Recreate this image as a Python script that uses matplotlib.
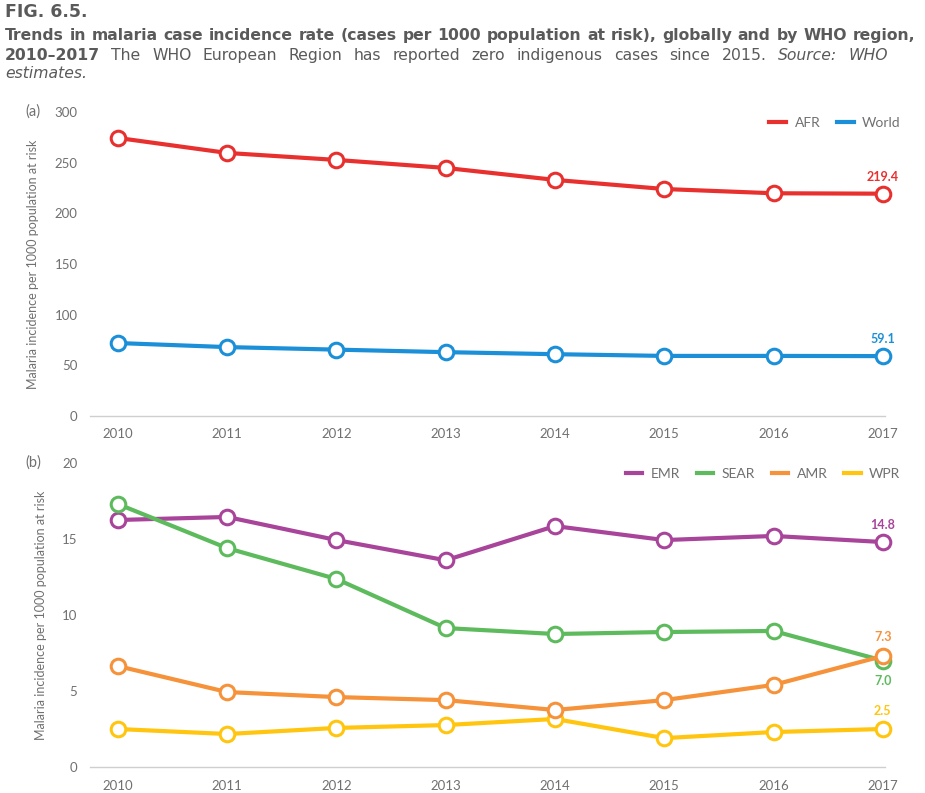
import matplotlib
matplotlib.use("Agg")
import matplotlib.pyplot as plt
from matplotlib.lines import Line2D

plt.rcParams['font.family'] = ['Lato', 'DejaVu Sans']

years = [2010, 2011, 2012, 2013, 2014, 2015, 2016, 2017]
afr = [274.4, 259.6, 252.7, 244.8, 233.0, 224.0, 219.8, 219.4]
world = [72.0, 68.0, 65.5, 63.0, 61.0, 59.3, 59.3, 59.1]
emr = [16.25, 16.45, 14.93, 13.6, 15.85, 14.93, 15.2, 14.8]
sear = [17.3, 14.4, 12.37, 9.14, 8.75, 8.88, 8.95, 7.0]
amr = [6.64, 4.93, 4.6, 4.4, 3.75, 4.4, 5.4, 7.3]
wpr = [2.5, 2.17, 2.57, 2.76, 3.16, 1.9, 2.3, 2.5]

yticks_a = [0, 50, 100, 150, 200, 250, 300]
yticks_b = [0, 5, 10, 15, 20]

C_AFR = '#E8312F'
C_WORLD = '#1B8FD8'
C_EMR = '#A8449A'
C_SEAR = '#5DBB5D'
C_AMR = '#F5923A'
C_WPR = '#FFC50F'
GRAY = '#707070'
TITLE = '#5a5a5a'

W, H = 925, 793
fig = plt.figure(figsize=(W / 100, H / 100), dpi=100)

def ax_rect(x0, y_top, x1, y_bot):
    return [x0 / W, 1 - y_bot / H, (x1 - x0) / W, (y_bot - y_top) / H]

ax_a = fig.add_axes(ax_rect(90, 112, 885, 416))
ax_b = fig.add_axes(ax_rect(90, 463, 885, 767))

def style(ax, ylim, yticks):
    ax.set_xlim(2009.745, 2017.02)
    ax.set_ylim(*ylim)
    ax.set_yticks(yticks)
    ax.set_xticks(years)
    for s in ['top', 'right', 'left']:
        ax.spines[s].set_visible(False)
    ax.spines['bottom'].set_color('#cfcfcf')
    ax.spines['bottom'].set_linewidth(1.0)
    ax.tick_params(length=0, colors=GRAY, labelsize=9.5)
    ax.tick_params(axis='y', pad=9)
    ax.tick_params(axis='x', pad=9)
    ax.set_ylabel('Malaria incidence per 1000 population at risk', color=GRAY,
                  fontsize=9, labelpad=11)
    ax.patch.set_visible(False)

style(ax_a, (0, 300), yticks_a)
style(ax_b, (0, 20), yticks_b)

def plot_series(ax, vals, color, z=3):
    ax.plot(years, vals, color=color, lw=3, marker='o', markersize=10.5,
            markerfacecolor='white', markeredgecolor=color, markeredgewidth=2.2,
            zorder=z, clip_on=False)

plot_series(ax_a, afr, C_AFR)
plot_series(ax_a, world, C_WORLD)
plot_series(ax_b, emr, C_EMR)
plot_series(ax_b, sear, C_SEAR)
plot_series(ax_b, wpr, C_WPR)
plot_series(ax_b, amr, C_AMR, z=4)

def end_label(ax, val, txt, color, dy):
    ax.annotate(txt, (years[-1], val), xytext=(0, dy), textcoords='offset points',
                ha='center', va='center', color=color, fontsize=9, fontweight='bold')

end_label(ax_a, afr[-1], '219.4', C_AFR, 12)
end_label(ax_a, world[-1], '59.1', C_WORLD, 12)
end_label(ax_b, emr[-1], '14.8', C_EMR, 12)
end_label(ax_b, amr[-1], '7.3', C_AMR, 14)
end_label(ax_b, sear[-1], '7.0', C_SEAR, -15)
end_label(ax_b, wpr[-1], '2.5', C_WPR, 13)

def legend(ax, items):
    handles = [Line2D([], [], color=c, lw=3) for _, c in items]
    leg = ax.legend(handles, [n for n, _ in items], loc='upper right', ncol=len(items),
                    frameon=False, fontsize=10, handlelength=1.2, handletextpad=0.6,
                    columnspacing=1.2, bbox_to_anchor=(1.03, 1.01), borderaxespad=0.2)
    for t in leg.get_texts():
        t.set_color(GRAY)

legend(ax_a, [('AFR', C_AFR), ('World', C_WORLD)])
legend(ax_b, [('EMR', C_EMR), ('SEAR', C_SEAR), ('AMR', C_AMR), ('WPR', C_WPR)])

fig.text(25 / W, 1 - 112 / H, '(a)', color=GRAY, fontsize=10.5, va='center', ha='left')
fig.text(25 / W, 1 - 463 / H, '(b)', color=GRAY, fontsize=10.5, va='center', ha='left')

# Title block
fig.text(5 / W, 1 - 12 / H, 'FIG. 6.5.', color=TITLE, fontsize=12.5, fontweight='bold',
         va='center', ha='left', family=['DejaVu Sans'])

renderer = fig.canvas.get_renderer()
TFONT = ['DejaVu Sans']

def measure(txt, size, wgt, sty):
    t = fig.text(0, 0, txt, fontsize=size, fontweight=wgt, fontstyle=sty, family=TFONT)
    w = t.get_window_extent(renderer=renderer).width
    t.remove()
    return w

line1 = 'Trends in malaria case incidence rate (cases per 1000 population at risk), globally and by WHO region,'
w1 = measure(line1, 10, 'bold', 'normal')
TSIZE = 10 * 910 / w1 * 0.995

def runs(x_px, y_px, parts, target_w=None):
    objs = []
    widths = []
    for txt, wgt, sty in parts:
        t = fig.text(0, 0, txt, color=TITLE, fontsize=TSIZE, fontweight=wgt, fontstyle=sty,
                     va='baseline', ha='left', family=TFONT)
        bb = t.get_window_extent(renderer=renderer)
        objs.append(t)
        widths.append(bb.width)
    gap = TSIZE * 0.32 * 100 / 72
    if target_w is not None and len(parts) > 1:
        gap = (target_w - sum(widths)) / (len(parts) - 1)
    x = x_px
    for t, w in zip(objs, widths):
        t.set_position((x / W, 1 - y_px / H))
        x += w + gap

runs(5, 40, [(w, 'bold', 'normal') for w in line1.split(' ')], 910)
line2_parts = [('2010–2017', 'bold', 'normal')]
line2_parts += [(w, 'normal', 'normal') for w in
                'The WHO European Region has reported zero indigenous cases since 2015.'.split(' ')]
line2_parts += [(w, 'normal', 'italic') for w in ['Source:', 'WHO']]
runs(5, 60, line2_parts, 883)
runs(5, 78, [('estimates.', 'normal', 'italic')])

fig.savefig('out.png', dpi=100)
